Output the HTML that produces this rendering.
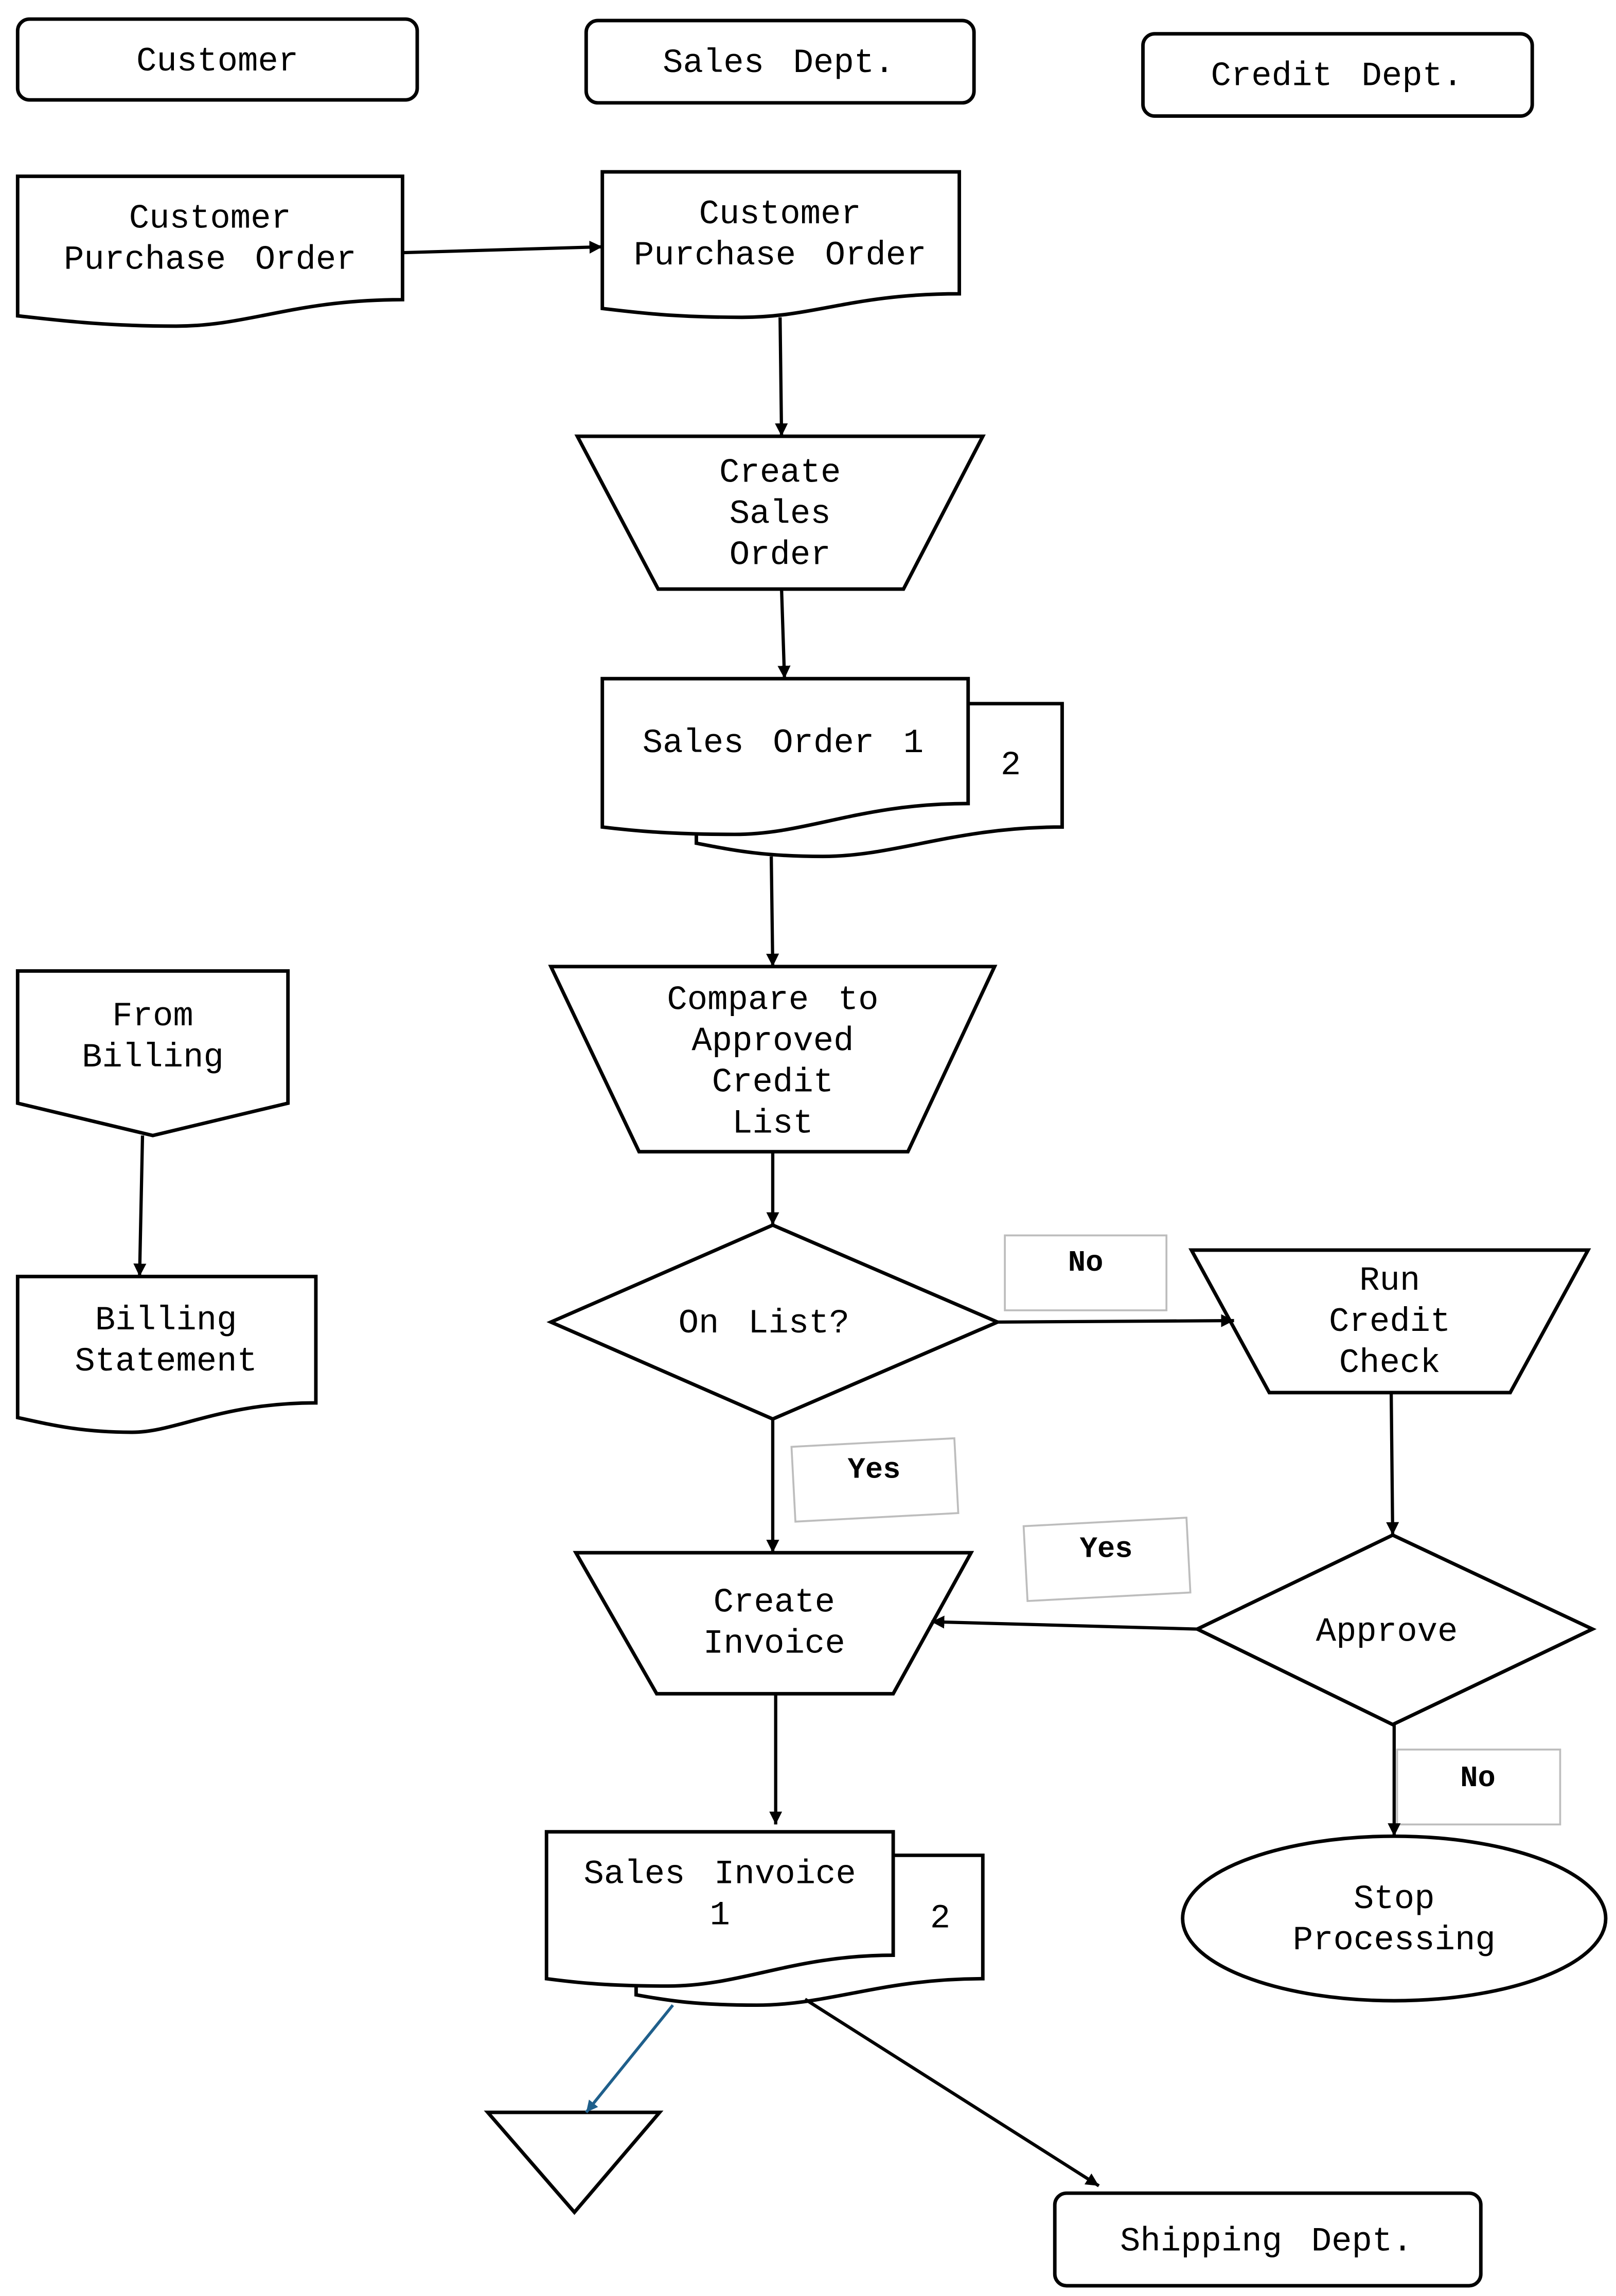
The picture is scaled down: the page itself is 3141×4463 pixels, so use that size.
<!DOCTYPE html>
<html><head><meta charset="utf-8"><style>
html,body{margin:0;padding:0;background:#fff;}
svg{display:block;}
text{font-family:"Liberation Mono",monospace;fill:#000;word-spacing:6px;}
</style></head><body>
<svg width="3141" height="4463" viewBox="0 0 1100 1563" xmlns="http://www.w3.org/2000/svg">
<defs>
<marker id="ah" viewBox="0 0 10 10" refX="10" refY="5" markerWidth="4" markerHeight="4" orient="auto" markerUnits="strokeWidth"><path d="M0,0 L10,5 L0,10 z" fill="#000"/></marker>
<marker id="ahb" viewBox="0 0 10 10" refX="10" refY="5" markerWidth="4" markerHeight="4" orient="auto" markerUnits="strokeWidth"><path d="M0,0 L10,5 L0,10 z" fill="#1f5f8b"/></marker>
</defs>
<g fill="#fff" stroke="#000" stroke-width="2.4" stroke-linejoin="miter">
<rect x="12" y="13" width="272" height="55" rx="8"/>
<rect x="399" y="14" width="264" height="56" rx="8"/>
<rect x="778" y="23" width="265" height="56" rx="8"/>
<rect x="718" y="1493" width="290" height="63" rx="8"/>
<path d="M12,120 H274 V204 C200,204 170,222 120,222 C70,222 40,218 12,215 Z"/>
<path d="M410,117 H653 V200 C580,200 555,216 505,216 C460,216 435,213 410,210 Z"/>
<path d="M393,297 H669 L615,401 H448 Z"/>
<path d="M474,479 H723 V563 C650,563 610,583 560,583 C520,583 500,579 474,574 Z"/>
<path d="M410,462 H659 V547 C585,547 550,568 500,568 C460,568 435,566 410,563 Z"/>
<path d="M375,658 H677 L618,784 H435 Z"/>
<path d="M375,900 L526,834 L679,900 L526,966 Z"/>
<path d="M811,851 H1081 L1028,948 H864 Z"/>
<path d="M815,1109 L948,1045 L1084,1109 L948,1174 Z"/>
<path d="M392,1057 H661 L608,1153 H447 Z"/>
<path d="M433,1263 H669 V1347 C600,1347 565,1365 515,1365 C475,1365 455,1362 433,1358 Z"/>
<path d="M372,1247 H608 V1331 C540,1331 505,1352 455,1352 C415,1352 395,1350 372,1347 Z"/>
<ellipse cx="949" cy="1306" rx="144" ry="56"/>
<path d="M332,1438 H449 L391,1506 Z"/>
<path d="M12,661 H196 V751 L104,773 L12,751 Z"/>
<path d="M12,869 H215 V955 C150,955 120,975 90,975 C55,975 35,970 12,965 Z"/>
</g>
<g fill="#fff" stroke="#bdbdbd" stroke-width="1.3">
<rect x="684" y="841" width="110" height="51"/>
<rect x="540" y="982" width="111" height="51" transform="rotate(-3 595 1007)"/>
<rect x="698" y="1036" width="111" height="51" transform="rotate(-3 754 1061)"/>
<rect x="951" y="1191" width="111" height="51"/>
</g>
<g stroke="#000" stroke-width="2.2" fill="none" marker-end="url(#ah)">
<line x1="274" y1="172" x2="410" y2="168"/>
<line x1="531" y1="216" x2="532" y2="297"/>
<line x1="532" y1="401" x2="534" y2="462"/>
<line x1="525" y1="583" x2="526" y2="658"/>
<line x1="526" y1="784" x2="526" y2="834"/>
<line x1="679" y1="900" x2="840" y2="899"/>
<line x1="947" y1="948" x2="948" y2="1045"/>
<line x1="526" y1="966" x2="526" y2="1057"/>
<line x1="815" y1="1109" x2="634" y2="1104"/>
<line x1="528" y1="1153" x2="528" y2="1242"/>
<line x1="949" y1="1174" x2="949" y2="1250"/>
<line x1="97" y1="773" x2="95" y2="869"/>
<line x1="548" y1="1361" x2="748" y2="1488"/>
</g>
<line x1="458" y1="1365" x2="399" y2="1438" stroke="#1f5f8b" stroke-width="2" marker-end="url(#ahb)"/>
<g font-size="23" text-anchor="middle">
<text x="148" y="48">Customer</text>
<text x="530" y="49">Sales Dept.</text>
<text x="910" y="58">Credit Dept.</text>
<text x="862" y="1532">Shipping Dept.</text>
<text x="143" y="155">Customer</text>
<text x="143" y="183">Purchase Order</text>
<text x="531" y="152">Customer</text>
<text x="531" y="180">Purchase Order</text>
<text x="531" y="328">Create</text>
<text x="531" y="356">Sales</text>
<text x="531" y="384">Order</text>
<text x="533" y="512">Sales Order 1</text>
<text x="688" y="527">2</text>
<text x="526" y="687">Compare to</text>
<text x="526" y="715">Approved</text>
<text x="526" y="743">Credit</text>
<text x="526" y="771">List</text>
<text x="520" y="907">On List?</text>
<text x="946" y="878">Run</text>
<text x="946" y="906">Credit</text>
<text x="946" y="934">Check</text>
<text x="944" y="1117">Approve</text>
<text x="527" y="1097">Create</text>
<text x="527" y="1125">Invoice</text>
<text x="490" y="1282">Sales Invoice</text>
<text x="490" y="1310">1</text>
<text x="640" y="1312">2</text>
<text x="949" y="1299">Stop</text>
<text x="949" y="1327">Processing</text>
<text x="104" y="698">From</text>
<text x="104" y="726">Billing</text>
<text x="113" y="905">Billing</text>
<text x="113" y="933">Statement</text>
</g>
<g font-size="20" font-weight="bold" text-anchor="middle">
<text x="739" y="865">No</text>
<text x="595" y="1006">Yes</text>
<text x="753" y="1060">Yes</text>
<text x="1006" y="1216">No</text>
</g>
</svg>
</body></html>
